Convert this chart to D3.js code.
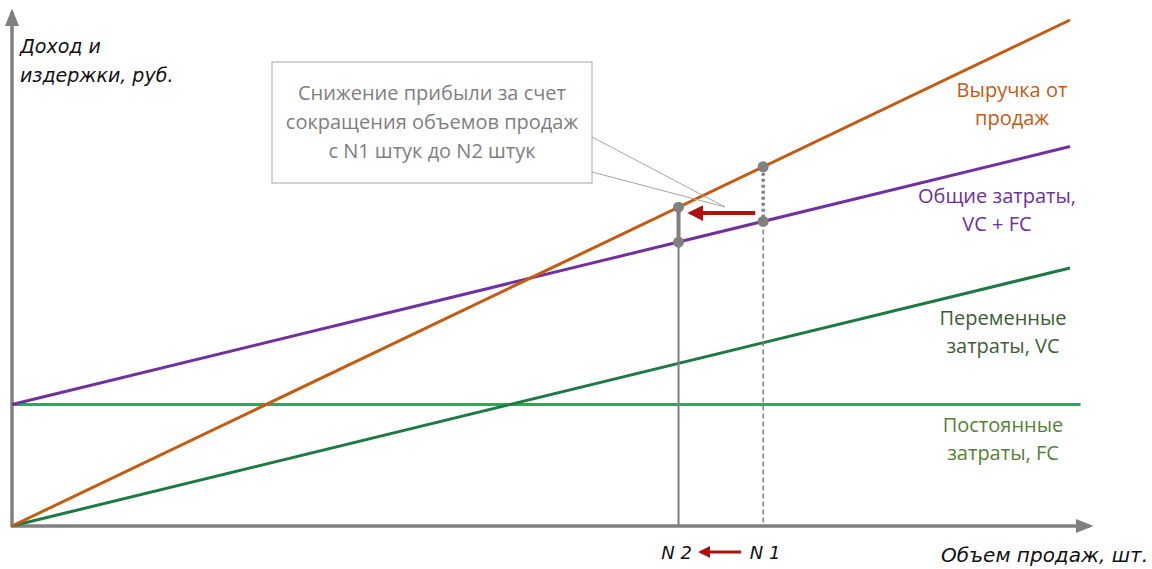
<!DOCTYPE html>
<html>
<head>
<meta charset="utf-8">
<script src="https://cdn.jsdelivr.net/npm/d3@7"></script>
<style>
  body { margin: 0; background: #fff; }
  text { font-family: "Open Sans", sans-serif; }
  text.it { font-family: "DejaVu Sans", sans-serif; font-style: italic; }
</style>
</head>
<body>
<div id="container"></div>
<script>
const width = 1152;
const height = 569;

// line endpoints (quantity, value)
const qty = [0, 100];
const revenue = [0, 100];
const variableCost = [0, 51];
const totalCost = [24, 75];
const fixedQty = [0, 101];
const fixedCost = [24, 24];

// volumes N2, N1 and the values at them
const nLabels = ["N 2", "N 1"];
const nQty = [63, 71];
const nRevenue = [63, 71];
const nTotal = [56.1, 60.2];

const calloutLines = ["Снижение прибыли за счет", "сокращения объемов продаж", "с N1 штук  до N2 штук"];

const x = d3.scaleLinear().domain([0, 100]).range([12, 1070]);
const y = d3.scaleLinear().domain([0, 100]).range([526, 20]);

const grey = "#808080";
const darkRed = "#b01010";

const svg = d3.create("svg")
  .attr("width", width)
  .attr("height", height)
  .attr("viewBox", [0, 0, width, height]);

const defs = svg.append("defs");
defs.append("marker")
  .attr("id", "axisHead")
  .attr("viewBox", "0 0 10 10")
  .attr("refX", 8).attr("refY", 5)
  .attr("markerWidth", 5).attr("markerHeight", 5)
  .attr("markerUnits", "strokeWidth")
  .attr("orient", "auto")
  .append("path").attr("d", "M0,1 L10,5 L0,9 Z").attr("fill", grey);
defs.append("marker")
  .attr("id", "redHead")
  .attr("viewBox", "0 0 10 10")
  .attr("refX", 8).attr("refY", 5)
  .attr("markerWidth", 4).attr("markerHeight", 4)
  .attr("markerUnits", "strokeWidth")
  .attr("orient", "auto")
  .append("path").attr("d", "M0,0 L10,5 L0,10 Z").attr("fill", darkRed);

// axes
svg.append("line")
  .attr("x1", x(0)).attr("y1", y(0) + 1)
  .attr("x2", x(0)).attr("y2", 12)
  .attr("stroke", grey).attr("stroke-width", 3.5)
  .attr("marker-end", "url(#axisHead)");
svg.append("line")
  .attr("x1", x(0) - 1).attr("y1", y(0))
  .attr("x2", 1090).attr("y2", y(0))
  .attr("stroke", grey).attr("stroke-width", 3.5)
  .attr("marker-end", "url(#axisHead)");

const line = d3.line().x(d => x(d[0])).y(d => y(d[1]));

const series = [
  { xs: fixedQty, ys: fixedCost, color: "#1fb052" },
  { xs: qty, ys: variableCost, color: "#1d7a43" },
  { xs: qty, ys: totalCost, color: "#7030a0" },
  { xs: qty, ys: revenue, color: "#c55a11" }
];

svg.append("g")
  .selectAll("path")
  .data(series)
  .join("path")
    .attr("d", s => line(s.xs.map((v, i) => [v, s.ys[i]])))
    .attr("fill", "none")
    .attr("stroke", s => s.color)
    .attr("stroke-width", 3);

// N2 markers (solid)
svg.append("line")
  .attr("x1", x(nQty[0])).attr("x2", x(nQty[0]))
  .attr("y1", y(nTotal[0])).attr("y2", y(0))
  .attr("stroke", grey).attr("stroke-width", 2);
svg.append("line")
  .attr("x1", x(nQty[0])).attr("x2", x(nQty[0]))
  .attr("y1", y(nRevenue[0])).attr("y2", y(nTotal[0]))
  .attr("stroke", grey).attr("stroke-width", 4);

// N1 markers (dashed)
svg.append("line")
  .attr("x1", x(nQty[1])).attr("x2", x(nQty[1]))
  .attr("y1", y(nTotal[1])).attr("y2", y(0))
  .attr("stroke", grey).attr("stroke-width", 1.5)
  .attr("stroke-dasharray", "5,3");
svg.append("line")
  .attr("x1", x(nQty[1])).attr("x2", x(nQty[1]))
  .attr("y1", y(nRevenue[1])).attr("y2", y(nTotal[1]))
  .attr("stroke", grey).attr("stroke-width", 3.5)
  .attr("stroke-dasharray", "3,3");

const dots = nQty.flatMap((q, i) => [[q, nRevenue[i]], [q, nTotal[i]]]);
svg.append("g")
  .selectAll("circle")
  .data(dots)
  .join("circle")
    .attr("cx", d => x(d[0]))
    .attr("cy", d => y(d[1]))
    .attr("r", 5.5)
    .attr("fill", grey);

// red arrow between N1 and N2
const arrowY = (y(nRevenue[1]) + y(nTotal[1])) / 2 + 19;
svg.append("line")
  .attr("x1", x(nQty[1]) - 8).attr("y1", arrowY)
  .attr("x2", x(nQty[0]) + 12).attr("y2", arrowY)
  .attr("stroke", darkRed).attr("stroke-width", 4)
  .attr("marker-end", "url(#redHead)");

// callout
const box = { x: 272, y: 62, w: 320, h: 121 };
const tip = [725, 207];
svg.append("path")
  .attr("d", `M${box.x + box.w},${box.y + 75} L${tip[0]},${tip[1]} L${box.x + box.w},${box.y + 110}`)
  .attr("fill", "none").attr("stroke", "#a6a6a6").attr("stroke-width", 1);
svg.append("rect")
  .attr("x", box.x).attr("y", box.y)
  .attr("width", box.w).attr("height", box.h)
  .attr("fill", "#fff").attr("stroke", "#a6a6a6").attr("stroke-width", 1);
svg.append("g")
  .selectAll("text")
  .data(calloutLines)
  .join("text")
    .attr("x", box.x + box.w / 2)
    .attr("y", (d, i) => box.y + 38 + i * 29)
    .attr("text-anchor", "middle")
    .attr("font-size", 20)
    .attr("fill", "#7f7f7f")
    .text(d => d);

// series labels
const labels = [
  { lines: ["Выручка от", "продаж"], x: 1012, y: 97, color: "#c55a11" },
  { lines: ["Общие затраты,", "VC + FC"], x: 997, y: 203, color: "#7030a0" },
  { lines: ["Переменные", "затраты, VC"], x: 1003, y: 325, color: "#3d5e35" },
  { lines: ["Постоянные", "затраты, FC"], x: 1003, y: 432, color: "#548235" }
];
labels.forEach(l => {
  svg.append("g")
    .selectAll("text")
    .data(l.lines)
    .join("text")
      .attr("x", l.x)
      .attr("y", (d, i) => l.y + i * 28)
      .attr("text-anchor", "middle")
      .attr("font-size", 20)
      .attr("fill", l.color)
      .text(d => d);
});

// axis titles
svg.append("g")
  .selectAll("text")
  .data(["Доход и", "издержки, руб."])
  .join("text")
    .attr("class", "it")
    .attr("x", 20)
    .attr("y", (d, i) => 53 + i * 29)
    .attr("font-size", 19)
    .attr("fill", "#111")
    .text(d => d);

svg.append("text")
  .attr("class", "it")
  .attr("x", 1148).attr("y", 562)
  .attr("text-anchor", "end")
  .attr("font-size", 20)
  .attr("fill", "#111")
  .text("Объем продаж, шт.");

// N labels under the axis
svg.append("g")
  .selectAll("text")
  .data(nLabels)
  .join("text")
    .attr("class", "it")
    .attr("x", (d, i) => x(nQty[i]) + (i === 0 ? -2 : 2))
    .attr("y", 559)
    .attr("text-anchor", "middle")
    .attr("font-size", 18)
    .attr("fill", "#111")
    .text(d => d);
svg.append("line")
  .attr("x1", x(nQty[1]) - 22).attr("y1", 552)
  .attr("x2", x(nQty[0]) + 22).attr("y2", 552)
  .attr("stroke", darkRed).attr("stroke-width", 3)
  .attr("marker-end", "url(#redHead)");

document.getElementById("container").appendChild(svg.node());
</script>
</body>
</html>
